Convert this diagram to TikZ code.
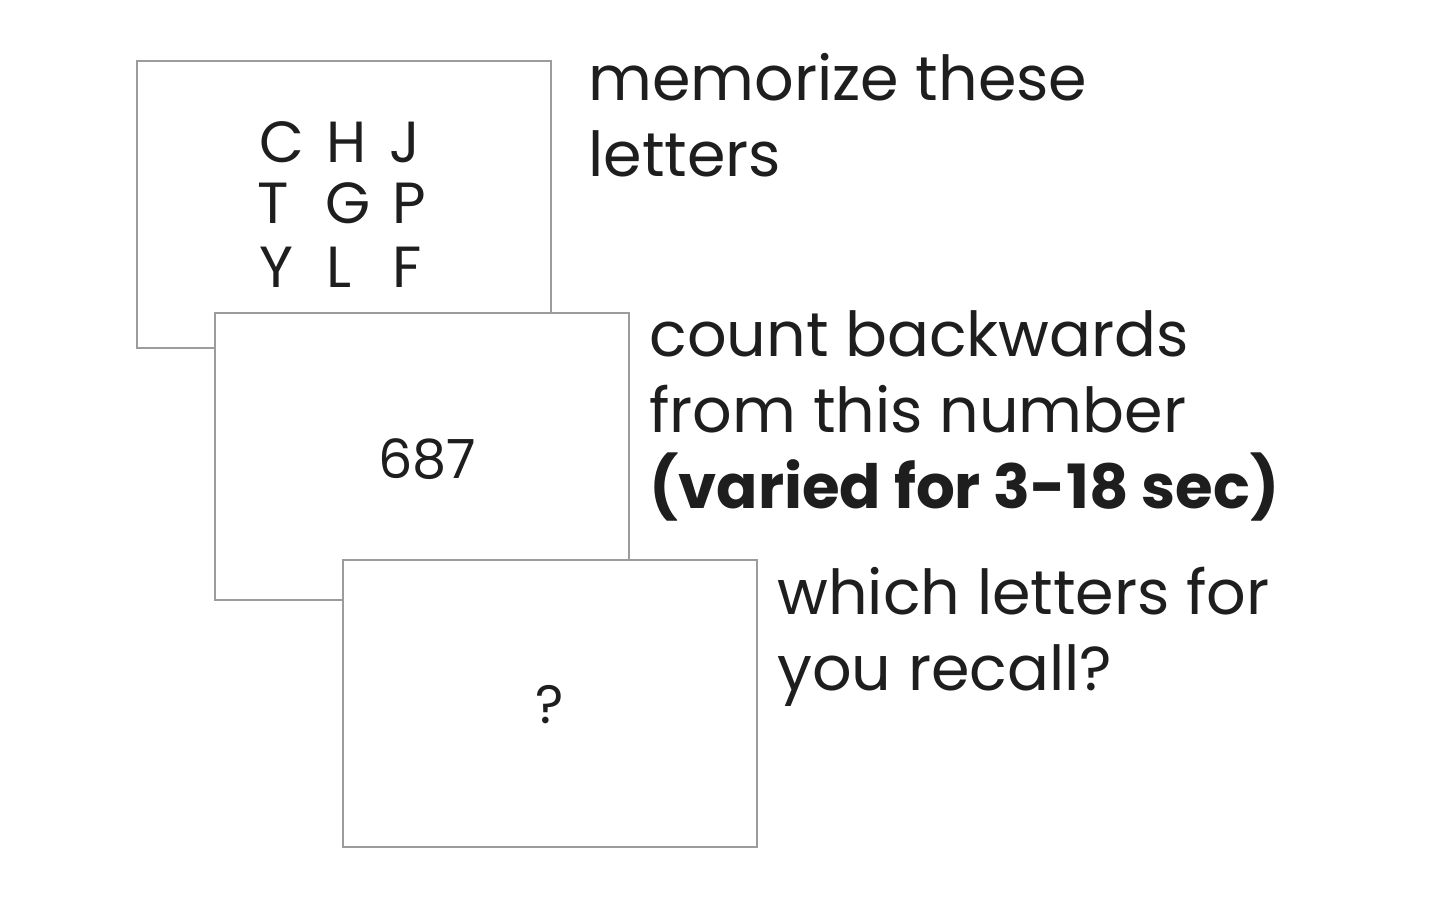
\documentclass[tikz,border=0pt]{standalone}
\usepackage{fontspec}
\setmainfont{Poppins}
\usepackage{tikz}

\definecolor{cardgray}{HTML}{9C9C9C}
\definecolor{inkgray}{HTML}{1E1E1E}

\begin{document}
\begin{tikzpicture}[x=0.5pt, y=-0.5pt,
    card/.style={draw=cardgray, line width=0.8pt, fill=white, rectangle, minimum width=207pt, minimum height=143.5pt, inner sep=0pt},
    letter/.style={anchor=base west, inner sep=0pt, text=inkgray, font=\fontsize{29}{34}\selectfont},
    cue/.style={anchor=base, inner sep=0pt, text=inkgray, font=\fontsize{27}{32}\selectfont},
    note/.style={anchor=base west, inner sep=0pt, align=left, text=inkgray, font=\fontsize{31}{38}\selectfont}]
        \useasboundingbox (0,0) rectangle (1440,910);

        \node[card] (card1) at (344,204.5) {};
        \node[letter] (lC) at (259,162) {C};
        \node[letter] (lH) at (326,162) {H};
        \node[letter] (lJ) at (389,162) {J};
        \node[letter] (lT) at (257,223) {T};
        \node[letter] (lG) at (325,223) {G};
        \node[letter] (lP) at (392,223) {P};
        \node[letter] (lY) at (259,287) {Y};
        \node[letter] (lL) at (326,287) {L};
        \node[letter] (lF) at (392,287) {F};

        \node[card] (card2) at (422,456.5) {};
        \node[cue] (num) at (427,478) {687};

        \node[card] (card3) at (550,703.5) {};
        \node[cue] (ask) at (550,723) {?};

        % base of a multi-line note is its last line
        \node[note] (memo) at (588,176) {memorize these\\letters};
        \node[note] (count) at (649,508) {count backwards\\from this number\\\fontsize{30.5}{38}\selectfont\bfseries (varied for 3-18 sec)};
        \node[note] (recall) at (777,690) {which letters for\\you recall?};
    \end{tikzpicture}
\end{document}
